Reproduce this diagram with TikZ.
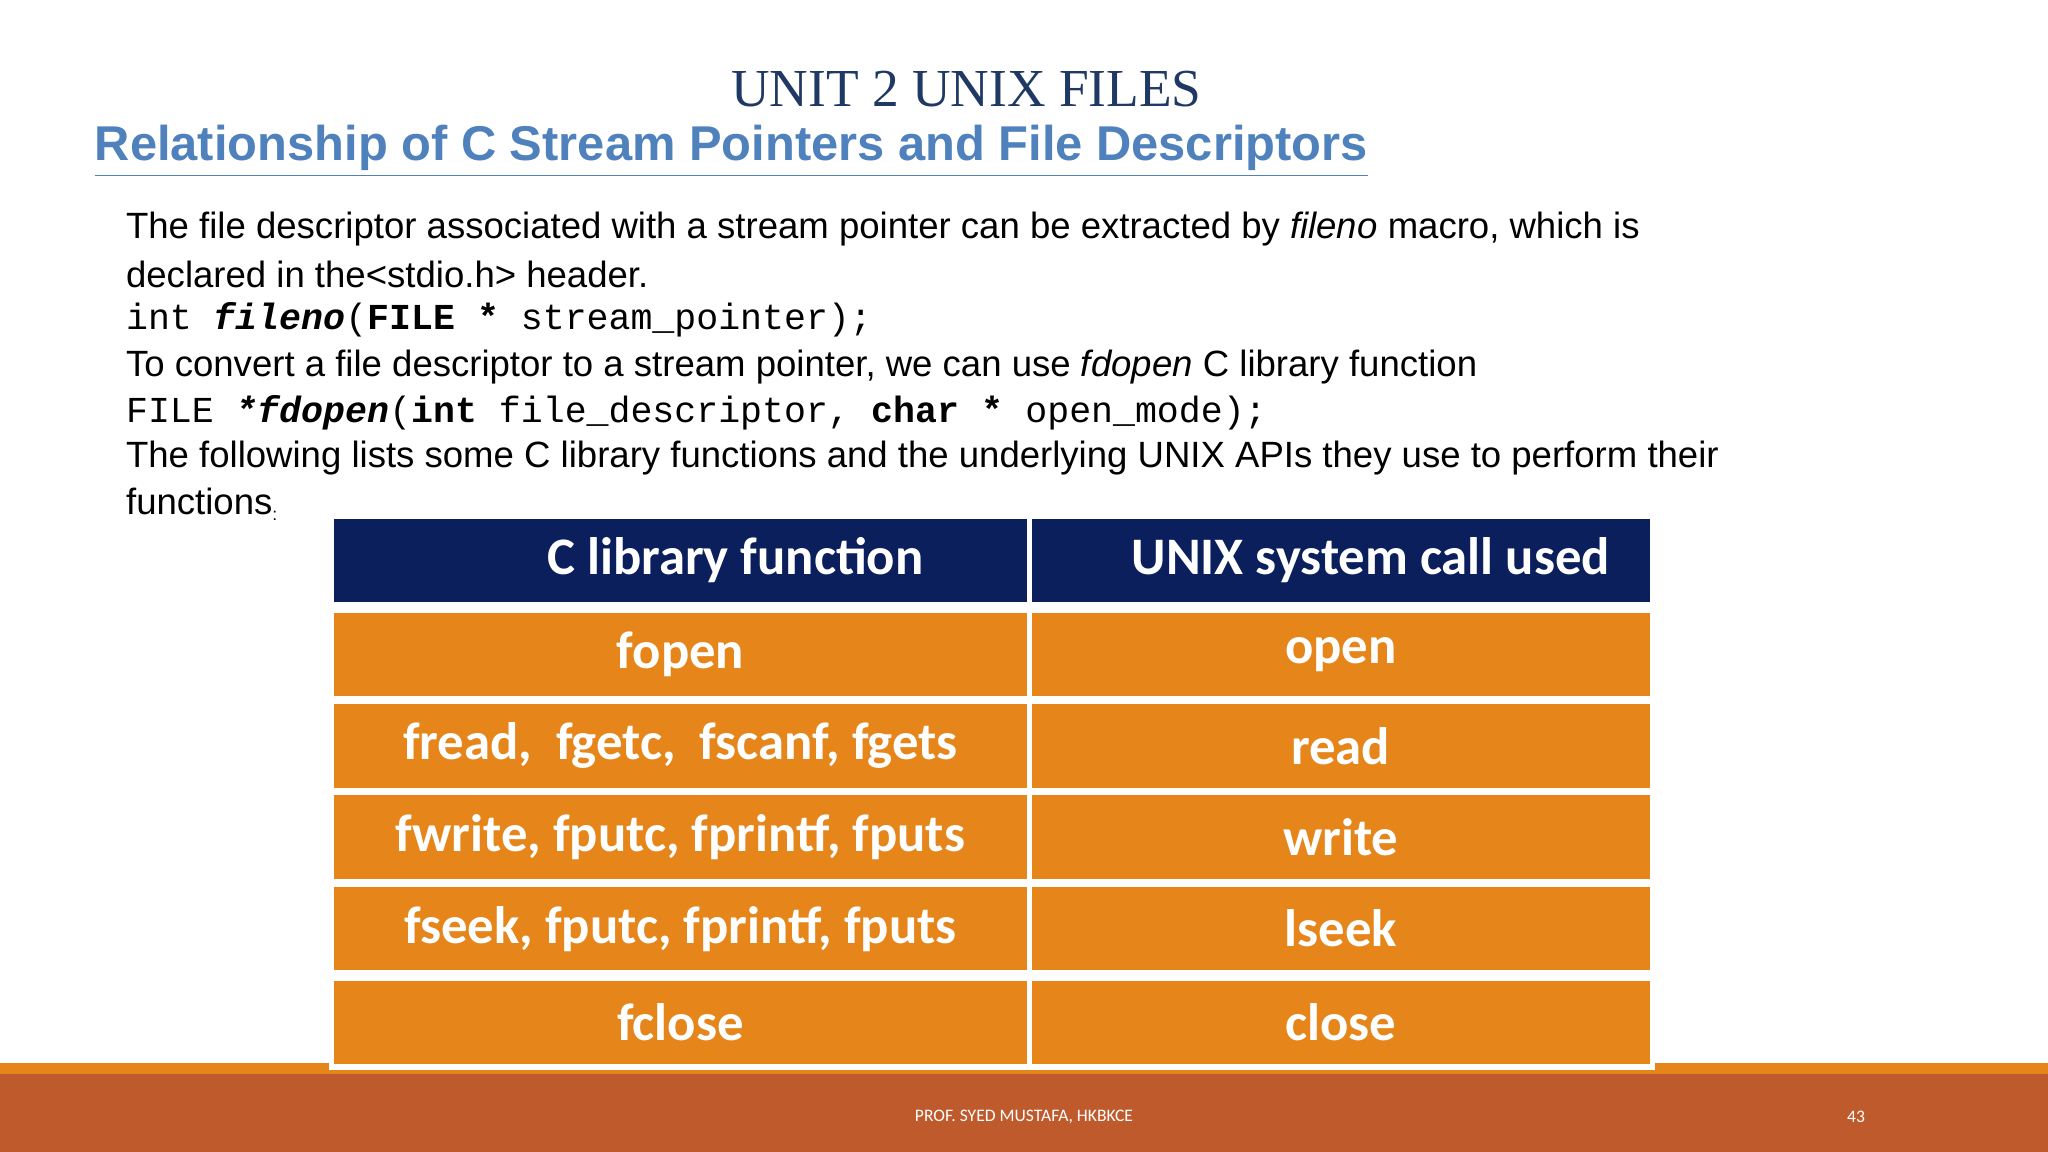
\documentclass[tikz,border=0pt]{standalone}
\usepackage{fontspec}
\setmainfont{Liberation Sans}
\setmonofont{Liberation Mono}
\newfontfamily\titlefont{Liberation Serif}
\newfontfamily\cellfont{Carlito}
\usepackage{xcolor}
\definecolor{navy}{HTML}{0A1F5C}
\definecolor{titleblue}{HTML}{1F3864}
\definecolor{linkblue}{HTML}{4F81BD}
\definecolor{cellorange}{HTML}{E5851A}
\definecolor{rust}{HTML}{BE5A2C}
\tikzset{
  bodyline/.style={anchor=west, inner sep=0pt, font=\fontsize{10.4}{12}\selectfont},
  headcell/.style={fill=navy, draw=white, line width=1.5pt, inner sep=0pt, text=white,
    font=\cellfont\bfseries\fontsize{15}{18}\selectfont, minimum height=0.888cm},
  datacell/.style={headcell, fill=cellorange},
  leftcol/.style={minimum width=6.975cm},
  rightcol/.style={minimum width=6.23cm},
  footer/.style={text=white, inner sep=0pt, font=\cellfont\fontsize{5}{6}\selectfont}
}
\begin{document}
\begin{tikzpicture}[x=0.013061cm, y=-0.013061cm]
  \useasboundingbox[fill=white] (0,0) rectangle (1568,882);
  % bottom band
  \fill[cellorange] (0,814) rectangle (1568,822);
  \fill[rust] (0,822) rectangle (1568,882);
  \node (author) [footer] at (784,855) {PROF. SYED MUSTAFA, HKBKCE};
  \node (page) [footer] at (1421,855) {43};
  % headings
  \node (title) [text=titleblue, font=\titlefont\fontsize{15.2}{18}\selectfont] at (740,68) {UNIT 2 UNIX FILES};
  \node (subtitle) [anchor=west, inner sep=0pt, text=linkblue, font=\bfseries\fontsize{13.9}{16}\selectfont] at (72,116)
    {\underline{Relationship of C Stream Pointers and File Descriptors}};
  % body text
  \node (l1) [bodyline] at (96,175) {The file descriptor associated with a stream pointer can be extracted by \textit{fileno} macro, which is};
  \node (l2) [bodyline] at (96,210) {declared in the<stdio.h> header.};
  \node (l3) [bodyline] at (96,245) {\ttfamily int \textbf{\textit{fileno}}(\textbf{FILE *} stream\_pointer);};
  \node (l4) [bodyline] at (96,281) {To convert a file descriptor to a stream pointer, we can use \textit{fdopen} C library function};
  \node (l5) [bodyline] at (96,316) {\ttfamily FILE \textbf{\textit{*fdopen}}(\textbf{int} file\_descriptor, \textbf{char *} open\_mode);};
  \node (l6) [bodyline] at (96,351) {The following lists some C library functions and the underlying UNIX APIs they use to perform their};
  \node (l7) [bodyline] at (96,386) {functions\raisebox{-0.3ex}{\tiny :}};
  % table
  \node (hleft) [headcell, leftcol] at (521,429) {\hspace*{1.1cm}C library function};
  \node (hright) [headcell, rightcol] at (1026.5,429) {\hspace*{0.6cm}UNIX system call used};
  \foreach \i/\lib/\sys/\y in {1/fopen/open/501, 2/{fread,\ \ fgetc,\ \ fscanf, fgets}/read/571,
      3/{fwrite, fputc, fprintf, fputs}/write/641, 4/{fseek, fputc, fprintf, fputs}/lseek/711,
      5/fclose/close/783} {
    \node (lib\i) [datacell, leftcol] at (521,\y) {\lib};
    \node (sys\i) [datacell, rightcol] at (1026.5,\y) {\sys};
  }
\end{tikzpicture}
\end{document}
